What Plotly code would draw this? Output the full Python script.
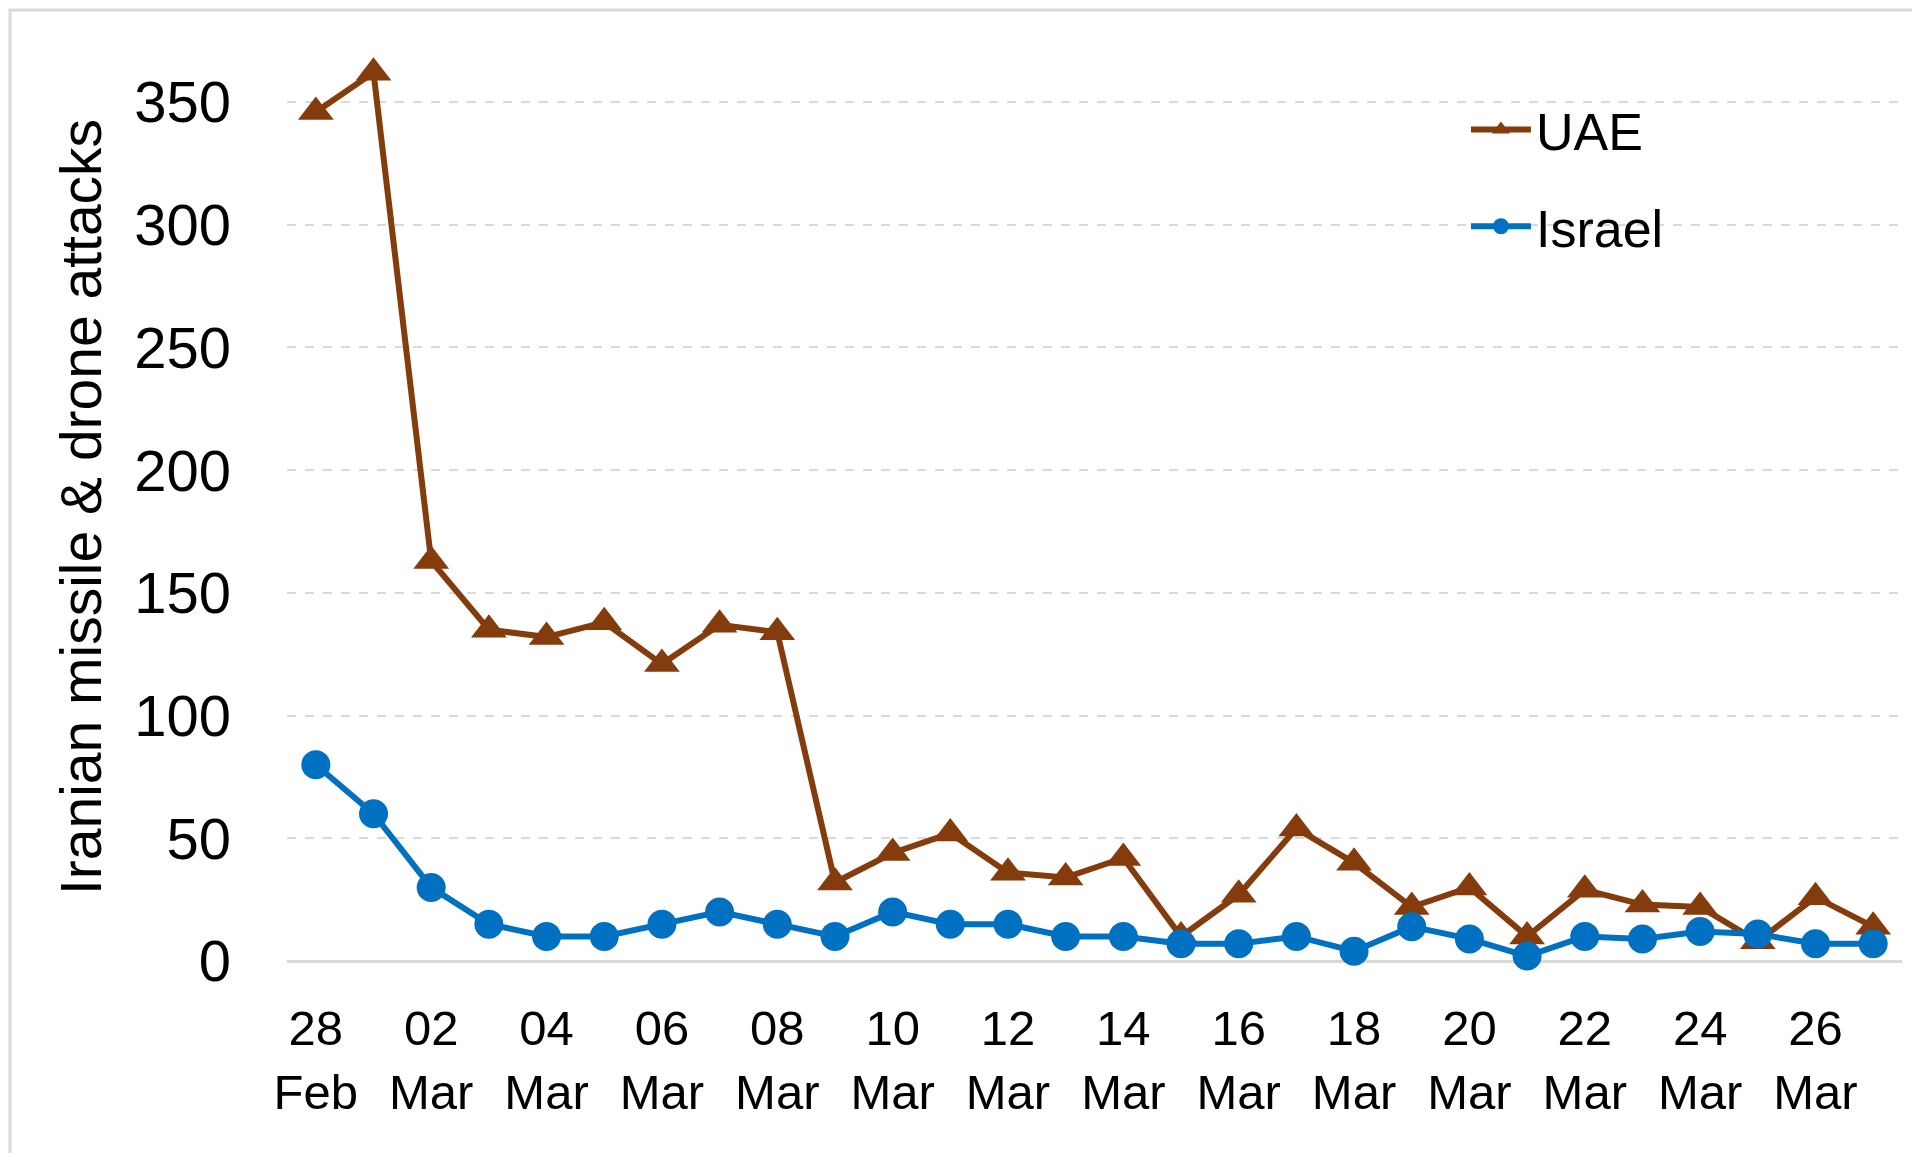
import plotly.graph_objects as go

days = ['28 Feb'] + ['%02d Mar' % d for d in range(1, 28)]
uae = [346, 362, 163, 135, 132, 138, 121, 137, 134, 32, 44, 52, 36, 34, 42,
       10, 27, 54, 40, 22, 30, 10, 29, 23, 22, 8, 26, 14]
israel = [80, 60, 30, 15, 10, 10, 15, 20, 15, 10, 20, 15, 15, 10, 10,
          7, 7, 10, 4, 14, 9, 2, 10, 9, 12, 11, 7, 7]
tick_days = days[::2]
tick_text = [d.replace(' ', '<br>') for d in tick_days]
y_ticks = [0, 50, 100, 150, 200, 250, 300, 350]

BROWN = '#843C0C'
BLUE = '#0070C0'
FONT = 'Liberation Sans, Arial, sans-serif'

fig = go.Figure()
fig.add_trace(go.Scatter(x=days, y=uae, name='UAE', mode='lines+markers',
                         legendgroup='uae',
                         line=dict(color=BROWN, width=6),
                         marker=dict(symbol='triangle-up', size=31, color=BROWN),
                         cliponaxis=False))
fig.add_trace(go.Scatter(x=days, y=israel, name='Israel', mode='lines+markers',
                         legendgroup='isr',
                         line=dict(color=BLUE, width=6),
                         marker=dict(symbol='circle', size=29, color=BLUE),
                         cliponaxis=False))

W, H = 1920, 1153
m = dict(l=279, r=26, t=45, b=200)
fig.update_layout(
    width=W, height=H, margin=m,
    paper_bgcolor='white', plot_bgcolor='white',
    font=dict(family=FONT, color='black'),
    showlegend=True,
    legend=dict(x=0.73, y=0.96, xanchor='left', yanchor='top',
                font=dict(size=52), itemwidth=60, tracegroupgap=26,
                bgcolor='rgba(0,0,0,0)'),
)
fig.update_xaxes(type='category', range=[-0.5, 27.5],
                 tickmode='array', tickvals=tick_days, ticktext=tick_text,
                 tickfont=dict(size=49), showgrid=False, ticks='',
                 showline=False, ticklabelstandoff=34)
fig.update_yaxes(range=[0, 370], tickvals=y_ticks, tickfont=dict(size=58),
                 showgrid=True, gridcolor='#d9d9d9', griddash='dash', gridwidth=2,
                 zeroline=True, zerolinecolor='#d9d9d9', zerolinewidth=3,
                 ticks='', showline=False, ticklabelstandoff=55,
                 title=dict(text='Iranian missile & drone attacks',
                            font=dict(size=57), standoff=14))

# light outer frame around the whole chart
pw = W - m['l'] - m['r']
ph = H - m['t'] - m['b']
fig.add_shape(type='rect', xref='paper', yref='paper',
              x0=-(m['l'] - 2) / pw, x1=1 + (m['r'] - 2) / pw,
              y0=-(m['b'] - 2) / ph, y1=1 + (m['t'] - 2) / ph,
              line=dict(color='#d9d9d9', width=3), layer='below')

fig.write_html("out.html")
